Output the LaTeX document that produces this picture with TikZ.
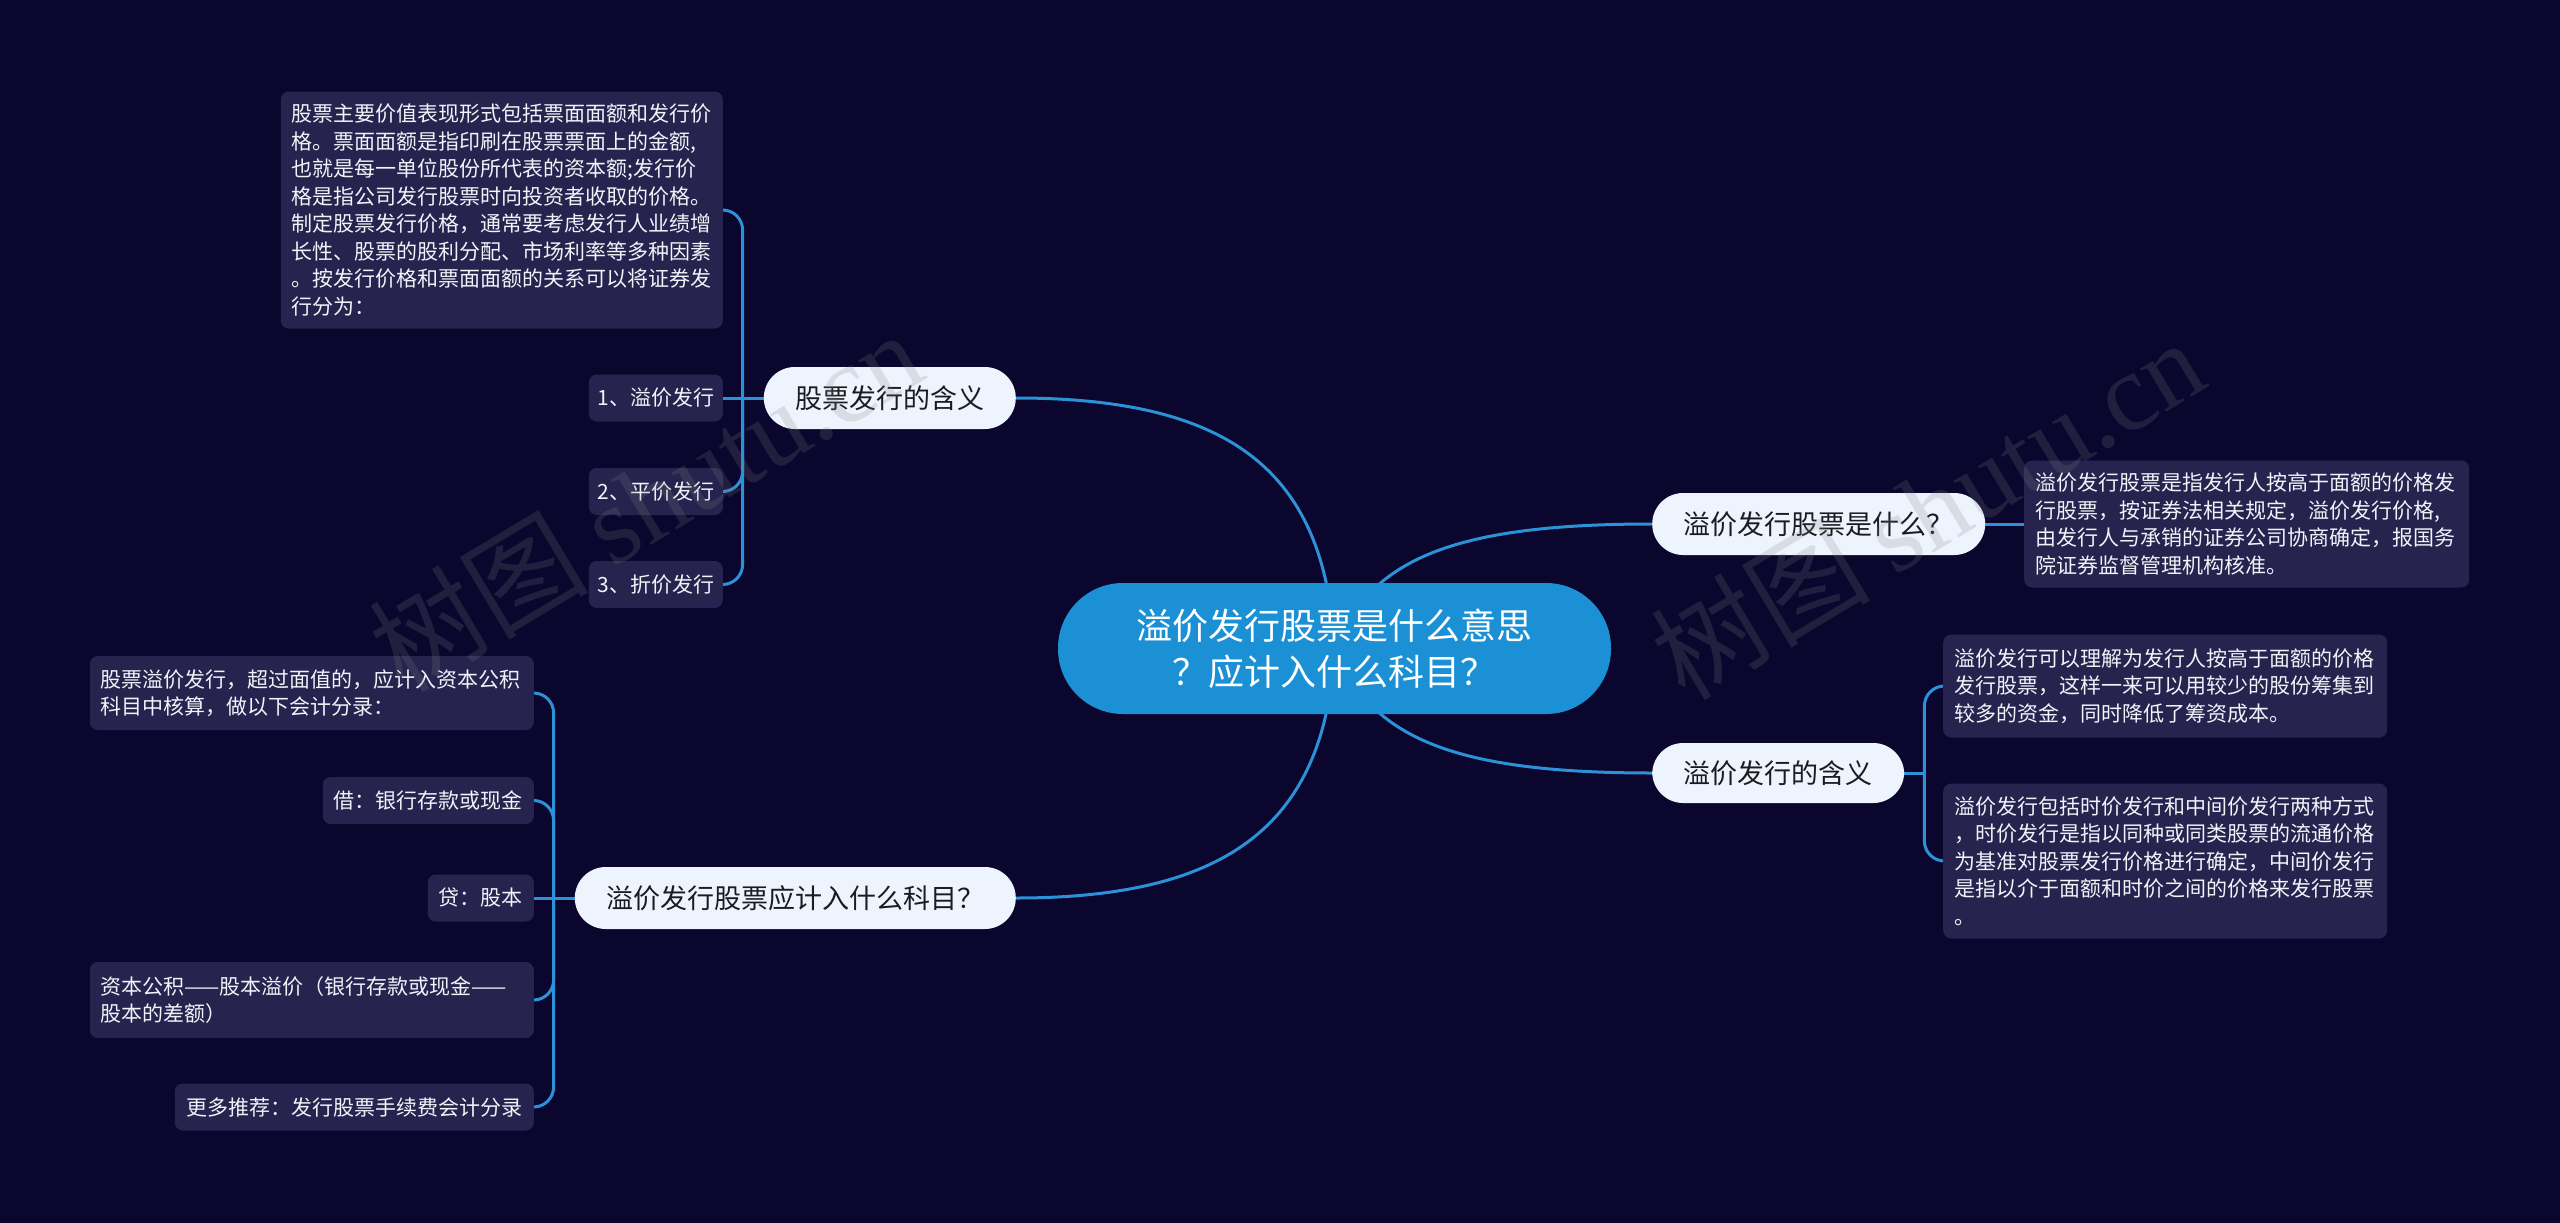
\documentclass[tikz,border=0pt]{standalone}
\usepackage{fontspec}
\setmainfont{Noto Sans CJK SC}
\newfontfamily\wmserif{Liberation Serif}
\usetikzlibrary{calc}
\pgfdeclarelayer{bg}
\pgfdeclarelayer{edges}
\pgfsetlayers{bg,edges,main}
\definecolor{bgc}{RGB}{10,6,46}
\definecolor{leafc}{RGB}{38,36,78}
\definecolor{leaftext}{RGB}{242,242,248}
\definecolor{topicc}{RGB}{238,244,253}
\definecolor{topictext}{RGB}{28,28,32}
\definecolor{centc}{RGB}{27,144,212}
\definecolor{linec}{RGB}{45,145,215}
\begin{document}
\begin{tikzpicture}[x=1pt,y=-1pt,
  leaf/.style={fill=leafc, rounded corners=8pt, text=leaftext,
    font=\fontsize{21}{27.5}\selectfont, inner xsep=11pt, inner ysep=0pt, align=left},
  sleaf/.style={fill=leafc, rounded corners=8pt, text=leaftext,
    font=\fontsize{21}{27.5}\selectfont, inner sep=0pt, minimum height=47pt},
  topic/.style={fill=topicc, text=topictext, rounded corners=31pt,
    minimum height=62pt, inner sep=0pt, font=\fontsize{27}{32}\selectfont},
  central/.style={fill=centc, text=white, rounded corners=65pt, minimum width=553pt,
    minimum height=131pt, inner sep=0pt, align=center, font=\fontsize{36}{46}\selectfont},
  edge/.style={draw=linec, line width=3pt},
  brk/.style={edge, rounded corners=20pt},
  wm/.style={text=gray, opacity=0.2, inner sep=0pt}
]
\begin{pgfonlayer}{bg}
\fill[bgc] (0,0) rectangle (2560,1223);
\end{pgfonlayer}
\useasboundingbox (0,0) rectangle (2560,1223);

% central
\node[central] (C) at (1334.5,648.5) {溢价发行股票是什么意思\\？应计入什么科目？};

% topics
\node[topic, anchor=east, minimum width=252pt] (T1) at (1016,398) {股票发行的含义};
\node[topic, anchor=west, minimum width=333pt] (T2) at (1652,524) {溢价发行股票是什么？};
\node[topic, anchor=west, minimum width=252pt, minimum height=60pt] (T3) at (1652,773) {溢价发行的含义};
\node[topic, anchor=east, minimum width=441pt] (T4) at (1016,898) {溢价发行股票应计入什么科目？};

% left top leaves
\node[leaf, anchor=east, text width=420pt, minimum height=237pt] (L0) at (723,210)
 {股票主要价值表现形式包括票面面额和发行价\\格。票面面额是指印刷在股票票面上的金额,\\也就是每一单位股份所代表的资本额;发行价\\格是指公司发行股票时向投资者收取的价格。\\制定股票发行价格，通常要考虑发行人业绩增\\长性、股票的股利分配、市场利率等多种因素\\。按发行价格和票面面额的关系可以将证券发\\行分为：};
\node[sleaf, anchor=east, minimum width=134pt] (L1) at (723,398) {1、溢价发行};
\node[sleaf, anchor=east, minimum width=134pt] (L2) at (723,491.5) {2、平价发行};
\node[sleaf, anchor=east, minimum width=134pt] (L3) at (723,584.5) {3、折价发行};

% left bottom leaves
\node[leaf, anchor=east, text width=422pt, minimum height=74pt] (B0) at (534,693)
 {股票溢价发行，超过面值的，应计入资本公积\\科目中核算，做以下会计分录：};
\node[sleaf, anchor=east, minimum width=211pt] (B1) at (534,800.5) {借：银行存款或现金};
\node[sleaf, anchor=east, minimum width=106pt] (B2) at (534,898) {贷：股本};
\node[leaf, anchor=east, text width=422pt, minimum height=76pt] (B3) at (534,1000)
 {资本公积——股本溢价（银行存款或现金——\\股本的差额）};
\node[sleaf, anchor=east, minimum width=359pt] (B4) at (534,1107) {更多推荐：发行股票手续费会计分录};

% right leaves
\node[leaf, anchor=west, text width=423pt, minimum height=127pt] (R0) at (2024,524)
 {溢价发行股票是指发行人按高于面额的价格发\\行股票，按证券法相关规定，溢价发行价格,\\由发行人与承销的证券公司协商确定，报国务\\院证券监督管理机构核准。};
\node[leaf, anchor=west, text width=422pt, minimum height=103pt] (R1) at (1943,686)
 {溢价发行可以理解为发行人按高于面额的价格\\发行股票，这样一来可以用较少的股份筹集到\\较多的资金，同时降低了筹资成本。};
\node[leaf, anchor=west, text width=422pt, minimum height=155pt] (R2) at (1943,861)
 {溢价发行包括时价发行和中间价发行两种方式\\，时价发行是指以同种或同类股票的流通价格\\为基准对股票发行价格进行确定，中间价发行\\是指以介于面额和时价之间的价格来发行股票\\。};

\begin{pgfonlayer}{edges}
% main branches
\draw[edge] (C.center) .. controls ($(C.center)+(-9,-178)$) and ($(T1.east)+(214,0)$) .. (T1.east);
\draw[edge] (C.center) .. controls ($(C.center)+(-9,182)$) and ($(T4.east)+(204,0)$) .. (T4.east);
\draw[edge] (C.center) .. controls ($(C.center)+(36,-88)$) and ($(T2.west)+(-202,0)$) .. (T2.west);
\draw[edge] (C.center) .. controls ($(C.center)+(36,88)$) and ($(T3.west)+(-202,0)$) .. (T3.west);
% left top bracket
\draw[edge] (T1.west) -- (L1.east);
\draw[brk] ([xshift=-21pt]T1.west) |- (L0.east);
\draw[brk] ([xshift=-21pt]T1.west) |- (L2.east);
\draw[brk] ([xshift=-21pt]T1.west) |- (L3.east);
% left bottom bracket
\draw[edge] (T4.west) -- (B2.east);
\draw[brk] ([xshift=-21pt]T4.west) |- (B0.east);
\draw[brk] ([xshift=-21pt]T4.west) |- (B1.east);
\draw[brk] ([xshift=-21pt]T4.west) |- (B3.east);
\draw[brk] ([xshift=-21pt]T4.west) |- (B4.east);
% right
\draw[edge] (T2.east) -- (R0.west);
\draw[edge] (T3.east) -- ([xshift=20pt]T3.east);
\draw[brk] ([xshift=20pt]T3.east) |- (R1.west);
\draw[brk] ([xshift=20pt]T3.east) |- (R2.west);
\end{pgfonlayer}

% watermarks
\node[wm, rotate=31] (wm1) at (645,500) {\fontsize{110}{110}\selectfont 树图 \wmserif shutu.cn};
\node[wm, rotate=31] (wm2) at (1927,508) {\fontsize{110}{110}\selectfont 树图 \wmserif shutu.cn};
\end{tikzpicture}
\end{document}
